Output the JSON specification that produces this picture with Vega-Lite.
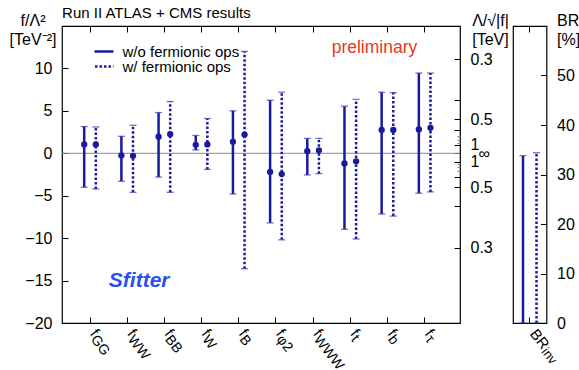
{
  "$schema": "https://vega.github.io/schema/vega-lite/v6.json",
  "padding": {"left": 8, "top": 5, "right": 0, "bottom": 0},
  "bounds": "flush",
  "spacing": 53,
  "config": {
    "font": "Liberation Sans",
    "view": {"stroke": "black", "strokeWidth": 1.2},
    "axis": {"domain": false, "grid": false, "tickColor": "black", "tickWidth": 1, "labelColor": "black", "labelFontSize": 16, "titleFontSize": 16, "titleFontWeight": "normal", "titleColor": "black", "labelFont": "Liberation Sans", "titleFont": "Liberation Sans"}
  },
  "resolve": {"scale": {"strokeDash": "independent", "xOffset": "independent"}, "legend": {"strokeDash": "independent"}},
  "datasets": {
    "ops": [
      {"op": "GG", "series": "w/o fermionic ops", "v": 1.05, "lo": -4.0, "hi": 3.15},
      {"op": "GG", "series": "w/ fermionic ops", "v": 1.05, "lo": -4.2, "hi": 3.1},
      {"op": "WW", "series": "w/o fermionic ops", "v": -0.25, "lo": -3.3, "hi": 2.0},
      {"op": "WW", "series": "w/ fermionic ops", "v": -0.3, "lo": -4.6, "hi": 3.3},
      {"op": "BB", "series": "w/o fermionic ops", "v": 1.95, "lo": -2.8, "hi": 4.8},
      {"op": "BB", "series": "w/ fermionic ops", "v": 2.25, "lo": -4.6, "hi": 6.1},
      {"op": "W", "series": "w/o fermionic ops", "v": 1.0, "lo": 0.4, "hi": 2.1},
      {"op": "W", "series": "w/ fermionic ops", "v": 1.05, "lo": -1.9, "hi": 4.1},
      {"op": "B", "series": "w/o fermionic ops", "v": 1.35, "lo": -4.8, "hi": 5.0},
      {"op": "B", "series": "w/ fermionic ops", "v": 2.2, "lo": -13.6, "hi": 12.0},
      {"op": "φ2", "series": "w/o fermionic ops", "v": -2.2, "lo": -8.2, "hi": 6.25},
      {"op": "φ2", "series": "w/ fermionic ops", "v": -2.45, "lo": -10.2, "hi": 7.2},
      {"op": "WWW", "series": "w/o fermionic ops", "v": 0.25, "lo": -2.55, "hi": 1.75},
      {"op": "WWW", "series": "w/ fermionic ops", "v": 0.35, "lo": -2.4, "hi": 1.75},
      {"op": "t", "series": "w/o fermionic ops", "v": -1.2, "lo": -8.95, "hi": 5.55},
      {"op": "t", "series": "w/ fermionic ops", "v": -0.95, "lo": -10.1, "hi": 6.35},
      {"op": "b", "series": "w/o fermionic ops", "v": 2.75, "lo": -7.15, "hi": 7.2},
      {"op": "b", "series": "w/ fermionic ops", "v": 2.75, "lo": -7.4, "hi": 7.15},
      {"op": "τ", "series": "w/o fermionic ops", "v": 2.8, "lo": -4.7, "hi": 9.45},
      {"op": "τ", "series": "w/ fermionic ops", "v": 3.0, "lo": -4.55, "hi": 9.45}
    ],
    "br": [
      {"cat": "inv", "series": "w/o fermionic ops", "lo": 0, "hi": 33.8},
      {"cat": "inv", "series": "w/ fermionic ops", "lo": 0, "hi": 34.4}
    ],
    "notes": [
      {"op": "b", "v": 12.35, "label": "preliminary"}
    ],
    "logo": [
      {"op": "WW", "v": -15, "label": "Sfitter"}
    ]
  },
  "hconcat": [
    {
      "width": 398,
      "height": 297,
      "title": {"text": "Run II ATLAS + CMS results", "anchor": "start", "frame": "bounds", "dx": 53, "fontSize": 15, "fontWeight": "normal", "offset": -9, "color": "black"},
      "data": {"name": "ops"},
      "layer": [
        {
          "data": {"values": [{"z": 0}]},
          "mark": {"type": "rule", "color": "#8c8c8c", "strokeWidth": 1},
          "encoding": {
            "y": {"field": "z", "type": "quantitative", "scale": {"domain": [-20, 15], "nice": false, "zero": false}, "axis": null}
          }
        },
        {
          "mark": {"type": "rule", "strokeWidth": 2.5, "color": "#1a1aa0"},
          "encoding": {
            "x": {"field": "op", "type": "nominal", "scale": {"type": "band", "domain": ["GG", "WW", "BB", "W", "B", "φ2", "WWW", "t", "b", "τ"], "paddingInner": 0, "paddingOuter": 0.352, "align": 0.36},
              "axis": {"orient": "bottom", "title": null, "labelExpr": "'f'", "labelAngle": 52, "labelAlign": "left", "labelBaseline": "top", "labelFontSize": 15, "labelOffset": 9, "ticks": true, "tickSize": -6, "labelPadding": 9}},
            "xOffset": {"field": "series", "type": "nominal", "scale": {"domain": ["w/o fermionic ops", "w/ fermionic ops"], "paddingInner": 0, "paddingOuter": 0.6}},
            "y": {"field": "lo", "type": "quantitative", "scale": {"domain": [-20, 15], "nice": false, "zero": false},
              "axis": {"orient": "left", "values": [-20, -15, -10, -5, 0, 5, 10], "tickSize": -6, "labelPadding": 16, "labelFlush": false, "labelOverlap": false, "title": ["f/Λ²", "[TeV⁻²]"], "titleAngle": 0, "titleX": -29.5, "titleY": -14, "titleAlign": "center", "titleBaseline": "top", "titleLineHeight": 19}},
            "y2": {"field": "hi"},
            "strokeDash": {"field": "series", "type": "nominal", "scale": {"domain": ["w/o fermionic ops", "w/ fermionic ops"], "range": [[1, 0], [2.5, 2]]},
              "legend": {"orient": "none", "legendX": 32.5, "legendY": 18.5, "title": null, "symbolType": "M-4.6,0H4.6", "symbolSize": 25, "symbolStrokeWidth": 2.5, "symbolStrokeColor": "#1a1aa0", "symbolFillColor": "transparent", "labelFontSize": 15, "labelColor": "black", "labelOffset": 13, "rowPadding": 0, "clipHeight": 14, "padding": 0}}
          }
        },
        {
          "mark": {"type": "tick", "size": 7, "thickness": 1.3, "color": "#3535b0", "orient": "horizontal"},
          "encoding": {
            "x": {"field": "op", "type": "nominal", "scale": {"type": "band", "domain": ["GG", "WW", "BB", "W", "B", "φ2", "WWW", "t", "b", "τ"], "paddingInner": 0, "paddingOuter": 0.352, "align": 0.36},
              "axis": {"orient": "top", "title": null, "labels": false, "ticks": true, "tickSize": -6}},
            "xOffset": {"field": "series", "type": "nominal", "scale": {"domain": ["w/o fermionic ops", "w/ fermionic ops"], "paddingInner": 0, "paddingOuter": 0.6}},
            "y": {"field": "hi", "type": "quantitative", "scale": {"domain": [-20, 15], "nice": false, "zero": false},
              "axis": {"orient": "right", "values": [11.111, 6.25, 4, 2.778, 2.041, 1.5625, 1.2346, 1, 0, -1, -1.2346, -1.5625, -2.041, -2.778, -4, -6.25, -11.111],
                "labelExpr": "datum.value == 0 ? '∞' : abs(datum.value) == 1 ? '1' : abs(datum.value) == 4 ? '0.5' : abs(datum.value) > 11 ? '0.3' : ''",
                "tickSize": {"condition": {"test": "abs(datum.value) > 1.1 && abs(datum.value) < 2.5", "value": -3}, "value": -6},
                "tickColor": {"condition": {"test": "abs(datum.value) > 1.1 && abs(datum.value) < 2.5", "value": "#888888"}, "value": "black"},
                "labelPadding": {"condition": {"test": "datum.value == 0", "value": 24}, "value": 16},
                "labelFlush": false, "labelOverlap": false,
                "title": ["Λ/√|f|", "[TeV]"], "titleAngle": 0, "titleX": 30, "titleY": -14, "titleAlign": "center", "titleBaseline": "top", "titleLineHeight": 19}}
          }
        },
        {
          "mark": {"type": "tick", "size": 7, "thickness": 1.3, "color": "#3535b0", "orient": "horizontal"},
          "encoding": {
            "x": {"field": "op", "type": "nominal", "scale": {"type": "band", "domain": ["GG", "WW", "BB", "W", "B", "φ2", "WWW", "t", "b", "τ"], "paddingInner": 0, "paddingOuter": 0.352, "align": 0.36}, "axis": null},
            "xOffset": {"field": "series", "type": "nominal", "scale": {"domain": ["w/o fermionic ops", "w/ fermionic ops"], "paddingInner": 0, "paddingOuter": 0.6}},
            "y": {"field": "lo", "type": "quantitative", "scale": {"domain": [-20, 15], "nice": false, "zero": false}, "axis": null}
          }
        },
        {
          "mark": {"type": "circle", "size": 40, "opacity": 1, "color": "#1a1aa0"},
          "encoding": {
            "x": {"field": "op", "type": "nominal", "scale": {"type": "band", "domain": ["GG", "WW", "BB", "W", "B", "φ2", "WWW", "t", "b", "τ"], "paddingInner": 0, "paddingOuter": 0.352, "align": 0.36},
              "axis": {"orient": "bottom", "title": null, "labelAngle": 52, "labelAlign": "left", "labelBaseline": "top", "labelFontSize": 14, "labelOffset": 8.8, "ticks": true, "tickSize": -6, "tickOpacity": 0, "labelPadding": 15.2}},
            "xOffset": {"field": "series", "type": "nominal", "scale": {"domain": ["w/o fermionic ops", "w/ fermionic ops"], "paddingInner": 0, "paddingOuter": 0.6}},
            "y": {"field": "v", "type": "quantitative", "scale": {"domain": [-20, 15], "nice": false, "zero": false}, "axis": null}
          }
        },
        {
          "data": {"name": "notes"},
          "mark": {"type": "text", "fontSize": 17.5, "color": "#e8381c", "align": "center", "baseline": "middle", "dx": -13},
          "encoding": {
            "x": {"field": "op", "type": "nominal", "scale": {"type": "band", "domain": ["GG", "WW", "BB", "W", "B", "φ2", "WWW", "t", "b", "τ"], "paddingInner": 0, "paddingOuter": 0.352, "align": 0.36}, "axis": null},
            "y": {"field": "v", "type": "quantitative", "scale": {"domain": [-20, 15], "nice": false, "zero": false}, "axis": null},
            "text": {"field": "label"}
          }
        },
        {
          "data": {"name": "logo"},
          "mark": {"type": "text", "fontSize": 21, "fontStyle": "italic", "fontWeight": "bold", "color": "#2850f0", "align": "center", "baseline": "middle", "dx": 12},
          "encoding": {
            "x": {"field": "op", "type": "nominal", "scale": {"type": "band", "domain": ["GG", "WW", "BB", "W", "B", "φ2", "WWW", "t", "b", "τ"], "paddingInner": 0, "paddingOuter": 0.352, "align": 0.36}, "axis": null},
            "y": {"field": "v", "type": "quantitative", "scale": {"domain": [-20, 15], "nice": false, "zero": false}, "axis": null},
            "text": {"field": "label"}
          }
        }
      ],
      "resolve": {"axis": {"x": "independent", "y": "independent"}}
    },
    {
      "width": 33.5,
      "height": 297,
      "data": {"name": "br"},
      "layer": [
        {
          "mark": {"type": "rule", "strokeWidth": 2.5, "color": "#1a1aa0"},
          "encoding": {
            "x": {"field": "cat", "type": "nominal", "scale": {"type": "band", "paddingInner": 0, "paddingOuter": 0},
              "axis": {"orient": "bottom", "title": null, "labelExpr": "'BR'", "labelAngle": 52, "labelAlign": "left", "labelBaseline": "top", "labelFontSize": 15, "labelOffset": 9, "ticks": true, "tickSize": -6, "labelPadding": 9}},
            "xOffset": {"field": "series", "type": "nominal", "scale": {"domain": ["w/o fermionic ops", "w/ fermionic ops"], "paddingInner": 0, "paddingOuter": 0.24}},
            "y": {"field": "lo", "type": "quantitative", "scale": {"domain": [0, 60], "nice": false},
              "axis": {"orient": "right", "values": [0, 10, 20, 30, 40, 50], "tickSize": -6, "labelPadding": 16, "labelFlush": false, "labelOverlap": false, "title": ["BR", "[%]"], "titleAngle": 0, "titleX": 10, "titleY": -14, "titleAlign": "left", "titleBaseline": "top", "titleLineHeight": 19}},
            "y2": {"field": "hi"},
            "strokeDash": {"field": "series", "type": "nominal", "scale": {"domain": ["w/o fermionic ops", "w/ fermionic ops"], "range": [[1, 0], [2.5, 2]]}, "legend": null}
          }
        },
        {
          "mark": {"type": "tick", "size": 7, "thickness": 1.3, "color": "#3535b0", "orient": "horizontal"},
          "encoding": {
            "x": {"field": "cat", "type": "nominal", "scale": {"type": "band", "paddingInner": 0, "paddingOuter": 0},
              "axis": {"orient": "bottom", "title": null, "labelExpr": "'inv'", "labelAngle": 52, "labelAlign": "left", "labelBaseline": "top", "labelFontSize": 13, "labelOffset": 19, "ticks": true, "tickSize": -6, "tickOpacity": 0, "labelPadding": 28.4}},
            "xOffset": {"field": "series", "type": "nominal", "scale": {"domain": ["w/o fermionic ops", "w/ fermionic ops"], "paddingInner": 0, "paddingOuter": 0.24}},
            "y": {"field": "hi", "type": "quantitative", "scale": {"domain": [0, 60], "nice": false}, "axis": null}
          }
        },
        {
          "mark": {"type": "tick", "size": 7, "thickness": 1.3, "color": "#3535b0", "orient": "horizontal"},
          "encoding": {
            "x": {"field": "cat", "type": "nominal", "scale": {"type": "band", "paddingInner": 0, "paddingOuter": 0},
              "axis": {"orient": "top", "title": null, "labels": false, "ticks": true, "tickSize": -6}},
            "xOffset": {"field": "series", "type": "nominal", "scale": {"domain": ["w/o fermionic ops", "w/ fermionic ops"], "paddingInner": 0, "paddingOuter": 0.24}},
            "y": {"field": "lo", "type": "quantitative", "scale": {"domain": [0, 60], "nice": false}, "axis": null}
          }
        }
      ],
      "resolve": {"axis": {"x": "independent", "y": "independent"}}
    }
  ]
}
